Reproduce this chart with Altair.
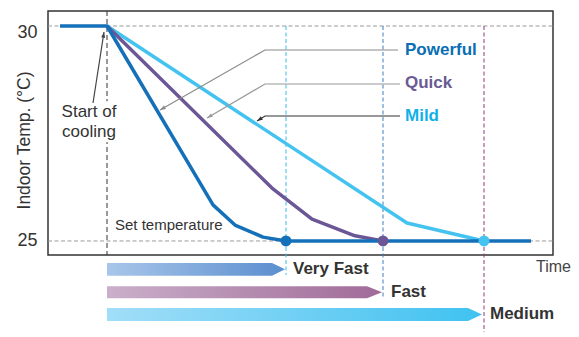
import math
import altair as alt
import pandas as pd

FONT = "Liberation Sans"
TXT = "#333333"

# ---- data (time in arbitrary units, temperature in °C) ----
pw_t = [-4.7, 0, 10.6, 12.8, 15.6, 17.9, 42.4]
pw_v = [30, 30, 25.84, 25.37, 25.09, 25, 25]
qk_t = [0, 16.5, 20.5, 24.8, 27.6]
qk_v = [30, 26.23, 25.51, 25.12, 25]
md_t = [0, 30.0, 37.7]
md_v = [30, 25.42, 25]

modes = ["Powerful", "Quick", "Mild"]
mode_colors = ["#1470b8", "#6b5796", "#45c3f0"]
mode_text_colors = ["#0a6eb4", "#6a5a94", "#12b0ea"]
reach_t = [17.9, 27.6, 37.7]
set_temp = 25
start_temp = 30

speed_names = ["Very Fast", "Fast", "Medium"]
speed_body_end = [16.5, 26.0, 36.1]
speed_tip = [17.8, 27.5, 37.5]
speed_top = [24.49, 23.95, 23.44]
speed_bot = [24.19, 23.67, 23.14]
speed_grad = [("#a9c6ea", "#5a8ecf"), ("#caafca", "#a06a98"), ("#a2def8", "#3fc2f0")]
vline_colors = ["#3dbde8", "#3f7fc4", "#8b3a80"]
vline_bottom = [24.21, 23.67, 22.88]

T_MIN, T_MAX = -5.9, 44.6
Y_MIN, Y_MAX = 24.674, 30.349
PX_T, PX_Y = 10.0, 43.0  # pixels per unit (for arrowhead angles)

xs = alt.Scale(domain=[T_MIN, T_MAX], nice=False, zero=False)
ys = alt.Scale(domain=[Y_MIN, Y_MAX], nice=False, zero=False)
yaxis = alt.Axis(
    values=[25, 30], ticks=False, domain=False, grid=False,
    labelFontSize=18, labelColor=TXT, labelFont=FONT, labelPadding=11,
    labelOffset={"condition": {"test": "datum.value == 30", "value": 6}, "value": 0},
    title="Indoor Temp. (°C)", titleFontSize=17.5, titleFont=FONT, titleColor=TXT,
    titleFontWeight="normal", titleX=-15, titleY=129, titleAngle=270,
    titleBaseline="bottom", titleAlign="center")
X = lambda f: alt.X(f, type="quantitative", scale=xs, axis=None)
Y = lambda f: alt.Y(f, type="quantitative", scale=ys, axis=yaxis)

layers = []

# horizontal dashed reference lines
hdf = pd.DataFrame({"t": [T_MIN, T_MIN], "t2": [T_MAX, T_MAX], "v": [start_temp, set_temp]})
layers.append(alt.Chart(hdf).mark_rule(color="#999999", strokeDash=[4, 2.5], strokeWidth=1).encode(
    x=X("t"), x2="t2", y=Y("v")))

# start-of-cooling vertical
sdf = pd.DataFrame({"t": [0], "v": [Y_MAX], "v2": [Y_MIN]})
layers.append(alt.Chart(sdf).mark_rule(color="#333333", strokeDash=[5, 3], strokeWidth=1).encode(
    x=X("t"), y=Y("v"), y2="v2"))

# white mask behind the "Start of cooling" label
mdf = pd.DataFrame({"t": [-0.5], "t2": [0.5], "v": [28.25], "v2": [27.3]})
layers.append(alt.Chart(mdf).mark_rect(color="white", opacity=1).encode(
    x=X("t"), x2="t2", y=Y("v"), y2="v2"))

# reach verticals
for t, b, c in zip(reach_t, vline_bottom, vline_colors):
    d = pd.DataFrame({"t": [t], "v": [start_temp], "v2": [b]})
    layers.append(alt.Chart(d).mark_rule(color=c, strokeDash=[4, 2.5], strokeWidth=1).encode(
        x=X("t"), y=Y("v"), y2="v2"))

# curves (Mild, Quick, Powerful)
for ts, vs, c in [(md_t, md_v, mode_colors[2]), (qk_t, qk_v, mode_colors[1]), (pw_t, pw_v, mode_colors[0])]:
    d = pd.DataFrame({"t": ts, "v": vs, "o": range(len(ts))})
    layers.append(alt.Chart(d).mark_line(color=c, strokeWidth=3.5, strokeJoin="round").encode(
        x=X("t"), y=Y("v"), order="o:Q"))

# reach dots
ddf = pd.DataFrame({"t": reach_t, "v": [set_temp] * 3, "c": mode_colors})
layers.append(alt.Chart(ddf).mark_point(filled=True, size=120, opacity=1).encode(
    x=X("t"), y=Y("v"), color=alt.Color("c:N", scale=None)))

# leader lines with arrowheads
leaders = [
    ("Powerful", [29.1, 15.8, 5.3], [29.442, 29.442, 28.047], "#8a8a8a"),
    ("Quick", [29.3, 15.8, 10.0], [28.651, 28.651, 27.86], "#999999"),
    ("Mild", [29.3, 15.8, 15.0], [27.907, 27.907, 27.791], "#333333"),
    ("Start", [-1.4, -0.3], [28.209, 29.86], "#444444"),
]
rows, heads = [], []
for name, ts, vs, c in leaders:
    for i, (t, v) in enumerate(zip(ts, vs)):
        rows.append({"id": name, "o": i, "t": t, "v": v, "c": c})
    dx = (ts[-1] - ts[-2]) * PX_T
    dy = -(vs[-1] - vs[-2]) * PX_Y
    ang = math.degrees(math.atan2(dx, -dy)) % 360
    heads.append({"t": ts[-1], "v": vs[-1], "a": ang, "c": c})
ldf = pd.DataFrame(rows)
layers.append(alt.Chart(ldf).mark_line(strokeWidth=1.2).encode(
    x=X("t"), y=Y("v"), detail="id:N", order="o:Q", color=alt.Color("c:N", scale=None)))
hdf2 = pd.DataFrame(heads)
layers.append(alt.Chart(hdf2).mark_point(
    shape="M0,0L0.42,1.2L-0.42,1.2Z", filled=True, size=90, opacity=1).encode(
    x=X("t"), y=Y("v"), angle=alt.Angle("a:Q", scale=None), color=alt.Color("c:N", scale=None)))

# speed arrows (gradient areas)
for name, xb, xt, top, bot, (c0, c1) in zip(speed_names, speed_body_end, speed_tip, speed_top, speed_bot, speed_grad):
    mid = (top + bot) / 2
    d = pd.DataFrame({"t": [0, xb, xt], "v": [top, top, mid], "v2": [bot, bot, mid]})
    grad = alt.LinearGradient(gradient="linear", x1=0, x2=1, y1=0, y2=0,
                              stops=[alt.GradientStop(color=c0, offset=0), alt.GradientStop(color=c1, offset=1)])
    layers.append(alt.Chart(d).mark_area(color=grad, interpolate="linear", opacity=1).encode(
        x=X("t"), y=Y("v"), y2="v2"))

# texts
def text_layer(ts, vs, labels, colors, size, weight, align="left"):
    d = pd.DataFrame({"t": ts, "v": vs, "s": labels, "c": colors})
    return alt.Chart(d).mark_text(font=FONT, fontSize=size, fontWeight=weight, align=align,
                                  baseline="middle").encode(
        x=X("t"), y=Y("v"), text="s:N", color=alt.Color("c:N", scale=None))

layers.append(text_layer([29.8] * 3, [29.442, 28.674, 27.907], modes, mode_text_colors, 17, "bold"))
layers.append(text_layer([18.6, 28.4, 38.3], [24.35, 23.81, 23.30], speed_names, [TXT] * 3, 17, "bold"))
layers.append(text_layer([-1.8, -1.8], [28.0, 27.535], ["Start of", "cooling"], [TXT] * 2, 17, "normal", "center"))
layers.append(text_layer([0.8], [25.372], ["Set temperature"], [TXT], 15, "normal"))
layers.append(text_layer([42.9], [24.40], ["Time"], ["#444444"], 16, "normal"))

chart = alt.layer(*layers).properties(
    width=505, height=244,
    autosize=alt.AutoSizeParams(type="none"),
    padding={"left": 48, "top": 11, "right": 26, "bottom": 82},
    background="white",
).configure_view(stroke="#333333", strokeWidth=1.5)

chart.save("out.html", embed_options={"renderer": "svg", "actions": False})
